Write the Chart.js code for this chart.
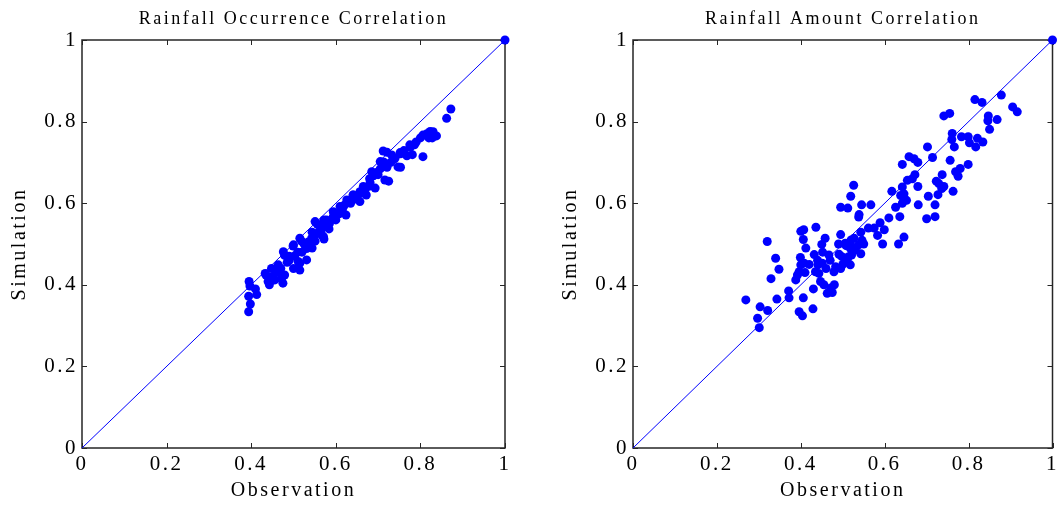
<!DOCTYPE html>
<html>
<head>
<meta charset="utf-8">
<script src="https://cdn.jsdelivr.net/npm/chart.js@4.4.0/dist/chart.umd.min.js"></script>
<style>
  html, body { margin: 0; padding: 0; background: #fff; }
  #wrap { position: relative; width: 1057px; height: 505px; overflow: hidden; }
  canvas { position: absolute; top: 0; }
</style>
</head>
<body>
<div id="wrap">
  <canvas id="occChart" width="551" height="505" style="left:0"></canvas>
  <canvas id="amtChart" width="506" height="505" style="left:551px"></canvas>
</div>
<script>
// Rainfall occurrence: observed vs simulated correlation
const occObs = [0.394, 0.398, 0.394, 0.413, 0.397, 0.435, 0.443, 0.452, 0.463, 0.475, 0.479, 0.479, 0.499, 0.503,
  0.515, 0.515, 0.519, 0.531, 0.544, 0.544, 0.556, 0.551, 0.572, 0.572, 0.584, 0.600, 0.608, 0.616, 0.624, 0.632,
  0.641, 0.657, 0.661, 0.672, 0.681, 0.693, 0.689, 0.697, 0.705, 0.713, 0.721, 0.725, 0.721, 0.737, 0.753, 0.753,
  0.761, 0.781, 0.786, 0.806, 0.806, 0.818, 0.830, 0.838, 0.872, 0.862, 0.823, 0.828, 0.800, 0.776, 0.768, 1.000,
  0.712, 0.732, 0.775, 0.752, 0.747, 0.705, 0.716, 0.697, 0.685, 0.681, 0.665, 0.657, 0.641, 0.626, 0.610, 0.594,
  0.594, 0.578, 0.571, 0.571, 0.551, 0.567, 0.543, 0.515, 0.531, 0.500, 0.476, 0.511, 0.464, 0.448, 0.433, 0.440,
  0.472, 0.456, 0.395, 0.490, 0.520, 0.530, 0.560, 0.580, 0.600, 0.620, 0.645, 0.670, 0.460, 0.485, 0.500,
  0.410, 0.450, 0.470, 0.490, 0.510, 0.525, 0.535, 0.550, 0.565, 0.585, 0.605, 0.615, 0.635, 0.650, 0.665,
  0.680, 0.700, 0.730, 0.740, 0.760, 0.790, 0.815, 0.820];
const occSim = [0.334, 0.353, 0.372, 0.376, 0.397, 0.424, 0.400, 0.412, 0.436, 0.404, 0.424, 0.472, 0.495, 0.471,
  0.453, 0.436, 0.507, 0.461, 0.529, 0.490, 0.549, 0.507, 0.512, 0.559, 0.537, 0.559, 0.574, 0.587, 0.571, 0.604,
  0.620, 0.604, 0.625, 0.620, 0.642, 0.637, 0.667, 0.675, 0.684, 0.701, 0.688, 0.654, 0.725, 0.708, 0.688, 0.721,
  0.729, 0.719, 0.743, 0.714, 0.767, 0.767, 0.775, 0.765, 0.831, 0.808, 0.776, 0.760, 0.760, 0.737, 0.716, 1.000,
  0.728, 0.718, 0.743, 0.724, 0.689, 0.702, 0.657, 0.674, 0.677, 0.650, 0.641, 0.628, 0.620, 0.608, 0.592, 0.579,
  0.567, 0.559, 0.542, 0.518, 0.555, 0.522, 0.514, 0.514, 0.489, 0.498, 0.481, 0.457, 0.449, 0.440, 0.428, 0.408,
  0.416, 0.412, 0.408, 0.470, 0.480, 0.500, 0.530, 0.550, 0.570, 0.595, 0.610, 0.635, 0.430, 0.455, 0.440,
  0.390, 0.420, 0.440, 0.460, 0.480, 0.500, 0.505, 0.520, 0.535, 0.550, 0.575, 0.580, 0.600, 0.615, 0.630,
  0.660, 0.670, 0.700, 0.710, 0.725, 0.750, 0.770, 0.760];

// Rainfall amount: observed vs simulated correlation
const amtObs = [0.815, 0.832, 0.878, 0.905, 0.916, 0.741, 0.755, 0.847, 0.846, 0.868, 0.850, 0.761, 0.760, 0.783,
  0.799, 0.802, 0.817, 0.821, 0.834, 0.766, 0.702, 0.714, 0.658, 0.670, 0.679, 0.642, 0.756, 0.799, 0.780, 0.769,
  0.775, 0.737, 0.672, 0.666, 0.654, 0.723, 0.729, 0.741, 0.642, 0.679, 0.617, 0.763, 0.736, 0.646, 0.638, 0.727,
  0.704, 0.652, 0.642, 0.626, 0.680, 0.720, 0.526, 0.519, 0.495, 0.512, 0.545, 0.567, 0.539, 0.538, 0.610, 0.636,
  0.700, 0.720, 0.589, 0.561, 0.575, 0.599, 0.543, 0.436, 0.400, 0.407, 0.495, 0.583, 0.646, 0.458, 0.406, 0.527,
  0.546, 0.450, 0.595, 0.633, 0.320, 0.412, 0.508, 0.519, 0.543, 0.432, 0.452, 0.340, 0.399,
  0.348, 0.329, 0.269, 0.343, 0.371, 0.372, 0.303, 0.321, 0.297, 0.301, 0.396, 0.404, 0.429, 0.406, 0.392, 0.388,
  0.396, 0.400, 0.408, 0.441, 0.451, 0.443, 0.447, 0.455, 0.471, 0.463, 0.475, 0.479, 0.483, 0.495, 0.518, 0.435,
  0.467, 0.491, 0.521, 0.530, 0.506, 0.522, 0.538, 0.514, 0.498, 1.000,
  0.420, 0.440, 0.460, 0.470, 0.500, 0.510, 0.490, 0.530, 0.520, 0.550, 0.410, 0.430, 0.480];
const amtSim = [0.854, 0.847, 0.865, 0.836, 0.824, 0.814, 0.820, 0.814, 0.802, 0.805, 0.781, 0.771, 0.756, 0.763,
  0.763, 0.748, 0.738, 0.759, 0.750, 0.738, 0.738, 0.712, 0.714, 0.709, 0.700, 0.695, 0.705, 0.695, 0.685, 0.677,
  0.666, 0.670, 0.670, 0.660, 0.656, 0.654, 0.648, 0.641, 0.640, 0.641, 0.629, 0.629, 0.636, 0.623, 0.619, 0.621,
  0.617, 0.607, 0.600, 0.590, 0.596, 0.596, 0.644, 0.617, 0.590, 0.588, 0.596, 0.596, 0.572, 0.566, 0.564, 0.567,
  0.562, 0.567, 0.552, 0.539, 0.539, 0.535, 0.529, 0.541, 0.531, 0.535, 0.523, 0.521, 0.517, 0.514, 0.511, 0.514,
  0.509, 0.499, 0.500, 0.500, 0.506, 0.490, 0.496, 0.488, 0.476, 0.474, 0.480, 0.465, 0.467,
  0.438, 0.415, 0.363, 0.365, 0.385, 0.368, 0.346, 0.337, 0.318, 0.295, 0.334, 0.324, 0.341, 0.368, 0.424, 0.412,
  0.432, 0.449, 0.453, 0.449, 0.453, 0.428, 0.408, 0.400, 0.392, 0.379, 0.381, 0.432, 0.444, 0.440, 0.449, 0.432,
  0.473, 0.475, 0.473, 0.485, 0.502, 0.493, 0.498, 0.469, 0.469, 1.000,
  0.450, 0.460, 0.440, 0.460, 0.450, 0.460, 0.500, 0.490, 0.510, 0.500, 0.430, 0.390, 0.400];

// 1:1 reference line
const lineX = [0, 1];
const lineY = [0, 1];

const tickValues = [0, 0.2, 0.4, 0.6, 0.8, 1];
const tickLabels = ['0', '0.2', '0.4', '0.6', '0.8', '1'];

const FONT = "'Liberation Serif', 'Times New Roman', serif";

const matlabBox = {
    id: 'matlabBox',
    beforeDraw(chart) {
        const ctx = chart.ctx;
        ctx.save();
        ctx.fillStyle = '#fff';
        ctx.fillRect(0, 0, chart.width, chart.height);
        ctx.restore();
        ctx.letterSpacing = '2.5px';
    },
    beforeDatasetsDraw(chart) {
        const { ctx, chartArea: a, scales: { x, y } } = chart;
        ctx.save();
        ctx.strokeStyle = '#262626';
        ctx.lineWidth = 1;
        ctx.beginPath();
        tickValues.forEach(v => {
            const px = Math.round(x.getPixelForValue(v)) + 0.5;
            const py = Math.round(y.getPixelForValue(v)) + 0.5;
            ctx.moveTo(px, a.bottom); ctx.lineTo(px, a.bottom - 5);
            ctx.moveTo(px, a.top); ctx.lineTo(px, a.top + 5);
            ctx.moveTo(a.left, py); ctx.lineTo(a.left + 5, py);
            ctx.moveTo(a.right, py); ctx.lineTo(a.right - 5, py);
        });
        ctx.stroke();
        ctx.lineWidth = 1.5;
        ctx.strokeRect(a.left, a.top, a.right - a.left, a.bottom - a.top);
        ctx.restore();
    }
};

function makeAxis(titleText, horizontal) {
    return {
        type: 'linear',
        min: 0,
        max: 1,
        grid: { display: false, drawTicks: false },
        border: { display: false },
        afterBuildTicks: s => { s.ticks = tickValues.map(v => ({ value: v })); },
        ticks: {
            callback: v => tickLabels[tickValues.indexOf(v)],
            font: { family: FONT, size: 21 },
            color: '#000',
            padding: 4,
            maxRotation: 0,
            autoSkip: false
        },
        title: {
            display: true,
            text: titleText,
            font: { family: FONT, size: 20 },
            color: '#000',
            padding: horizontal ? { top: 0, bottom: 2 } : { top: 8, bottom: 0 }
        },
        afterFit: s => {
            if (horizontal) s.height = 57; else s.width = 82;
            s.paddingLeft = 0; s.paddingRight = 0; s.paddingTop = 0; s.paddingBottom = 0;
        }
    };
}

function dibujar(canvasId, titulo, obs, sim, rightPad) {
    const puntos = obs.map((x, i) => ({ x: x, y: sim[i] }));
    const diagonal = lineX.map((x, i) => ({ x: x, y: lineY[i] }));
    return new Chart(document.getElementById(canvasId), {
        type: 'scatter',
        data: {
            datasets: [
                {
                    type: 'line',
                    data: diagonal,
                    borderColor: '#0000ff',
                    borderWidth: 1,
                    pointRadius: 0,
                    fill: false,
                    clip: false
                },
                {
                    data: puntos,
                    backgroundColor: '#0000ff',
                    borderWidth: 0,
                    pointRadius: 4.5,
                    clip: false
                }
            ]
        },
        options: {
            responsive: false,
            animation: false,
            layout: { padding: { left: 0, top: 0, right: rightPad, bottom: 0 } },
            plugins: {
                legend: { display: false },
                tooltip: { enabled: false },
                title: {
                    display: true,
                    text: titulo,
                    fullSize: false,
                    color: '#000',
                    font: { family: FONT, size: 18, weight: 'normal', lineHeight: 1 },
                    padding: { top: 10, bottom: 12 }
                }
            },
            scales: {
                x: makeAxis('Observation', true),
                y: makeAxis('Simulation', false)
            }
        },
        plugins: [matlabBox]
    });
}

dibujar('occChart', 'Rainfall Occurrence Correlation', occObs, occSim, 46);
dibujar('amtChart', 'Rainfall Amount Correlation', amtObs, amtSim, 2);
</script>
</body>
</html>
